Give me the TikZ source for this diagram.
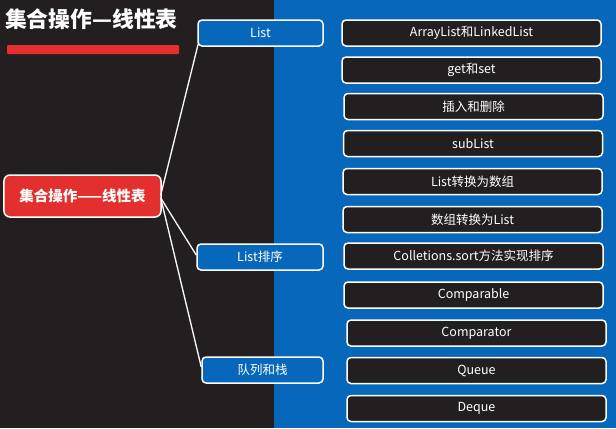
\documentclass[tikz,border=0pt]{standalone}
\usepackage{fontspec}
\setmainfont{Noto Sans CJK SC}
\usetikzlibrary{calc}
\definecolor{darkbg}{HTML}{231F20}
\definecolor{bluebg}{HTML}{0767BA}
\definecolor{redbox}{HTML}{E3302E}
\tikzset{
  base/.style={draw=white, line width=1.5bp, rounded corners=4bp, text=white,
    inner sep=0pt, minimum height=26bp},
  itembox/.style={base, fill=darkbg, minimum width=259bp,
    font=\fontsize{12.5bp}{14bp}\selectfont},
  topicbox/.style={base, fill=bluebg, font=\fontsize{12.5bp}{14bp}\selectfont},
  rootbox/.style={base, fill=redbox, minimum width=157bp, minimum height=42bp,
    rounded corners=6bp, font=\bfseries\fontsize{14.5bp}{16bp}\selectfont},
  link/.style={draw=white, line width=1.3bp}
}
\begin{document}
\begin{tikzpicture}[x=1bp, y=-1bp]
  % backgrounds
  \fill[darkbg] (0,0) rectangle (274,428);
  \fill[bluebg] (274,0) rectangle (616,428);
  \useasboundingbox (0,0) rectangle (616,428);

  % title with red underline bar
  \node[anchor=west, text=white, inner sep=0pt,
        font=\bfseries\fontsize{21.8bp}{24bp}\selectfont] (title) at (5,19) {集合操作—线性表};
  \fill[redbox, rounded corners=1bp] (7,45) rectangle (179,54);

  % root node
  \node[rootbox] (root) at (82.5,196) {集合操作——线性表};

  % topic nodes
  \node[topicbox, minimum width=125bp] (list) at (260.5,33) {List};
  \node[topicbox, minimum width=126bp] (sort) at (260,257) {List排序};
  \node[topicbox, minimum width=121bp] (queue) at (262.5,370) {队列和栈};

  % item nodes
  \node[itembox] (i1)  at (471.5,33)   {ArrayList和LinkedList};
  \node[itembox] (i2)  at (471.5,70)   {get和set};
  \node[itembox] (i3)  at (473.5,106.5) {插入和删除};
  \node[itembox] (i4)  at (473,143.5)  {subList};
  \node[itembox] (i5)  at (472.5,181.5) {List转换为数组};
  \node[itembox] (i6)  at (472.5,219.5) {数组转换为List};
  \node[itembox] (i7)  at (473.5,256)  {Colletions.sort方法实现排序};
  \node[itembox] (i8)  at (473.5,295)  {Comparable};
  \node[itembox] (i9)  at (476.5,333)  {Comparator};
  \node[itembox] (i10) at (476.5,370.5) {Queue};
  \node[itembox] (i11) at (476.5,408.5) {Deque};

  % connectors from the root to the topics
  \draw[link] ($(root.east)+(-1,-1)$) -- ($(list.south west)+(1,-3)$);
  \draw[link] ($(root.east)+(-1,2)$) -- ($(sort.west)+(0,-2)$);
  \draw[link] ($(root.east)+(-1,2)$) -- ($(queue.west)+(0,-3)$);
\end{tikzpicture}
\end{document}
